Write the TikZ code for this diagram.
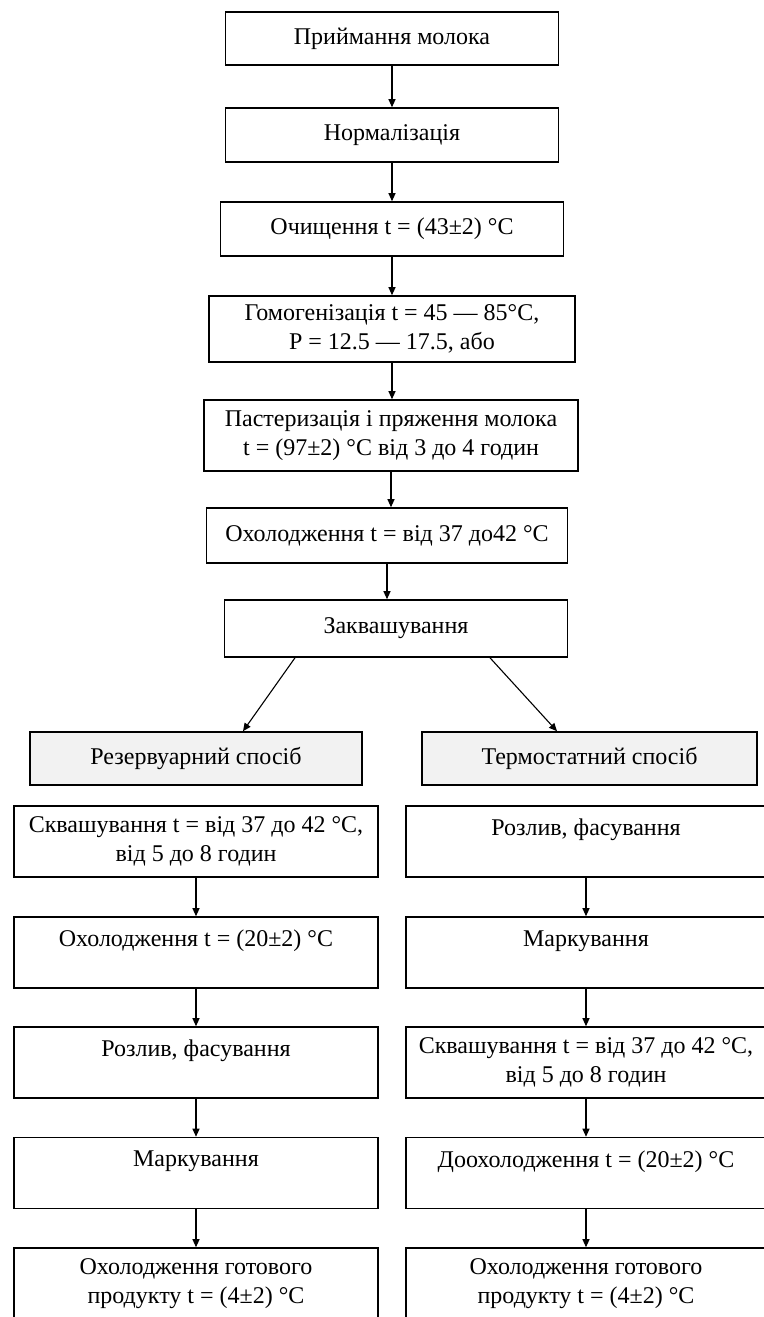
\documentclass[tikz,border=0pt]{standalone}
\usepackage{fontspec}
\setmainfont{Liberation Serif}
\usetikzlibrary{arrows.meta}

\begin{document}
\begin{tikzpicture}[x=1pt,y=-1pt,
    box/.style={draw, line width=1.6pt, inner sep=0pt, align=center,
      font=\fontsize{24}{28.5}\selectfont},
    head/.style={box, fill=gray!10, minimum height=53pt},
    stage/.style={box, minimum height=71pt},
    conn/.style={line width=1.1pt, -{Triangle[length=8pt,width=7pt]}}]
  \useasboundingbox (0,0) rectangle (763,1317);

  % Draw the common stages
  \node[box, minimum width=333pt, minimum height=53pt] (pryiom) at (392,38.5) {Приймання молока};
  \node[box, minimum width=333pt, minimum height=54pt] (norm) at (392,135) {Нормалізація};
  \node[box, minimum width=343pt, minimum height=54pt] (ochysh) at (392,229) {Очищення t = (43±2) °C};
  \node[box, minimum width=366pt, minimum height=66pt] (homog) at (392,329) {Гомогенізація t = 45 — 85°C,\\P = 12.5 — 17.5, або};
  \node[box, minimum width=374pt, minimum height=71pt] (paster) at (391,435.5) {Пастеризація і пряження молока\\t = (97±2) °C від 3 до 4 годин};
  \node[box, minimum width=361pt, minimum height=55pt] (okhol) at (387,535.5) {Охолодження t = від 37 до42 °C};
  \node[box, minimum width=343pt, minimum height=57pt] (zakv) at (396,628.5) {Заквашування};

  % Draw the two ways
  \node[head, minimum width=332pt] (rez) at (196,758.5) {Резервуарний спосіб};
  \node[head, minimum width=335pt] (term) at (589.5,758.5) {Термостатний спосіб};

  % Left column
  \node[stage, minimum width=364pt] (rez1) at (196,841.5) {Сквашування t = від 37 до 42 °C,\\від 5 до 8 годин};
  \node[stage, minimum width=364pt] (rez2) at (196,952.5) {Охолодження t = (20±2) °C\\\mbox{}};
  \node[stage, minimum width=364pt] (rez3) at (196,1062.5) {Розлив, фасування\\\mbox{}};
  \node[stage, minimum width=364pt] (rez4) at (196,1173) {Маркування\\\mbox{}};
  \node[stage, minimum width=364pt] (rez5) at (196,1283.5) {Охолодження готового\\продукту t = (4±2) °C};

  % Right column
  \node[stage, minimum width=360pt] (term1) at (586,841.5) {Розлив, фасування\\\mbox{}};
  \node[stage, minimum width=360pt] (term2) at (586,952.5) {Маркування\\\mbox{}};
  \node[stage, minimum width=360pt] (term3) at (586,1062.5) {Сквашування t = від 37 до 42 °C,\\від 5 до 8 годин};
  \node[stage, minimum width=360pt] (term4) at (586,1173) {Доохолодження t = (20±2) °C\\\mbox{}};
  \node[stage, minimum width=360pt] (term5) at (586,1283.5) {Охолодження готового\\продукту t = (4±2) °C};

  % Draw the arrows
  \foreach \a/\b in {pryiom/norm, norm/ochysh, ochysh/homog, homog/paster, paster/okhol, okhol/zakv,
      rez1/rez2, rez2/rez3, rez3/rez4, rez4/rez5, term1/term2, term2/term3, term3/term4, term4/term5}
    \draw[conn] (\a.south) -- (\a.south |- \b.north);
  \draw[conn] ([xshift=-101pt]zakv.south) -- ([xshift=47pt]rez.north);
  \draw[conn] ([xshift=94pt]zakv.south) -- ([xshift=-32.5pt]term.north);
\end{tikzpicture}
\end{document}
